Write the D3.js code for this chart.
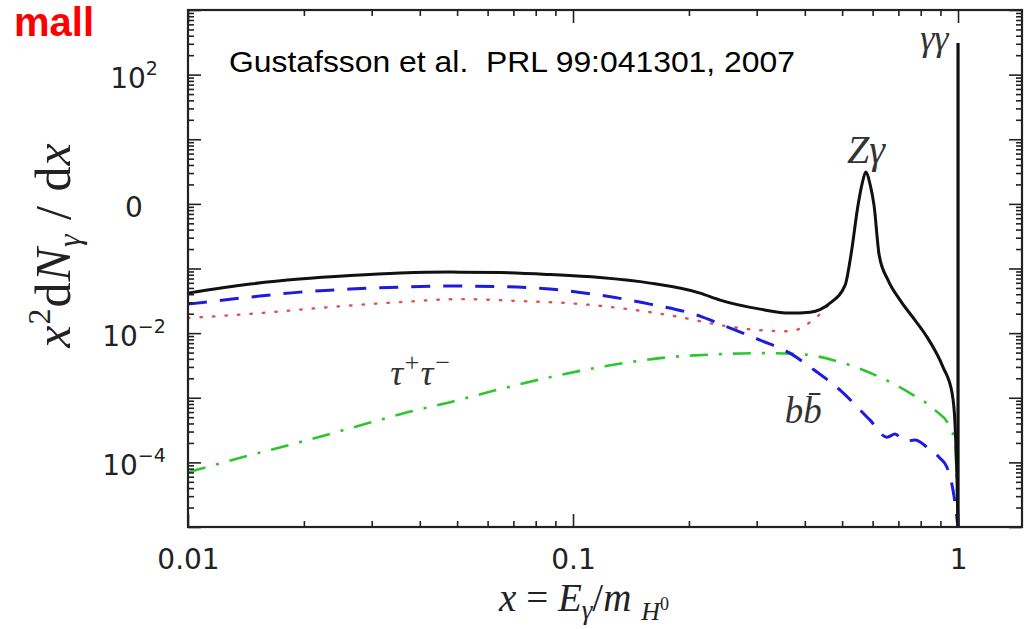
<!DOCTYPE html>
<html>
<head>
<meta charset="utf-8">
<script src="https://cdn.jsdelivr.net/npm/d3@7"></script>
<style>
body { margin: 0; background: #fff; }
svg { display: block; }
</style>
</head>
<body>
<div id="chart"></div>
<script>
const width = 1025, height = 629
const frame = {left: 188, right: 1022, top: 10, bottom: 527}

// x ticks and labels
const xMajor = [0.01, 0.1, 1]
const xLabels = ["0.01", "0.1", "1"]
// y ticks and labels (the "0" label sits on 10^0 as in the picture)
const yMajor = [1e2, 1, 1e-2, 1e-4]
const yLabelBase = ["10", "0", "10", "10"]
const yLabelExp = ["2", "", "\u22122", "\u22124"]

// total spectrum (solid black)
const totalX = [0.01, 0.0145, 0.0195, 0.0264, 0.0356, 0.048, 0.0646, 0.0871, 0.1175, 0.1585, 0.2138, 0.241, 0.306, 0.366, 0.413, 0.465, 0.509, 0.527, 0.55, 0.563, 0.577, 0.591, 0.605, 0.624, 0.658, 0.707, 0.773, 0.831, 0.914, 0.965, 0.982, 0.994, 0.9995]
const totalY = [0.0416, 0.0574, 0.0686, 0.0777, 0.0849, 0.0879, 0.0865, 0.0805, 0.0723, 0.0594, 0.0416, 0.0324, 0.0235, 0.0204, 0.0211, 0.0291, 0.0553, 0.161, 0.957, 2.0, 3.10, 2.0, 0.957, 0.161, 0.066, 0.0324, 0.0159, 0.00867, 0.00298, 0.00118, 0.000404, 5.3e-5, 1e-5]

// b bbar (blue dashed)
const bbX = [0.01, 0.0145, 0.0195, 0.0264, 0.0356, 0.048, 0.0646, 0.0871, 0.1175, 0.1585, 0.2138, 0.241, 0.306, 0.366, 0.413, 0.494, 0.591, 0.654, 0.686, 0.728, 0.773, 0.831, 0.898, 0.936, 0.9705, 0.988, 0.9995]
const bbY = [0.0281, 0.0361, 0.0431, 0.048, 0.0515, 0.0535, 0.0525, 0.048, 0.0387, 0.0281, 0.0183, 0.0138, 0.0078, 0.0049, 0.00298, 0.00131, 0.00045, 0.000245, 0.000274, 0.000213, 0.000221, 0.000172, 0.000116, 8.4e-5, 3.7e-5, 1.82e-5, 1e-5]

// dotted red
const dotX = [0.01, 0.0154, 0.0234, 0.0356, 0.0509, 0.0728, 0.1012, 0.1324, 0.1897, 0.241, 0.306, 0.366, 0.413, 0.443, 0.465, 0.509, 0.527, 0.55, 0.563, 0.577, 0.591, 0.605, 0.624, 0.658, 0.707, 0.773, 0.831, 0.914, 0.965, 0.982, 0.994, 0.9995]
const dotY = [0.0171, 0.0204, 0.0253, 0.0302, 0.0336, 0.0313, 0.0286, 0.0244, 0.0177, 0.0133, 0.0111, 0.0107, 0.0148, 0.0211, 0.0291, 0.0553, 0.161, 0.957, 2.0, 3.10, 2.0, 0.957, 0.161, 0.066, 0.0324, 0.0159, 0.00867, 0.00298, 0.00118, 0.000404, 5.3e-5, 1e-5]

// tau+ tau- (green dash-dot)
const tauX = [0.01, 0.0145, 0.0195, 0.0264, 0.0356, 0.048, 0.0646, 0.0871, 0.1175, 0.1683, 0.241, 0.306, 0.3887, 0.494, 0.627, 0.75, 0.8716, 0.953, 0.982, 0.994, 0.9995]
const tauY = [7.05e-5, 0.000129, 0.000205, 0.000338, 0.000557, 0.000855, 0.00136, 0.00208, 0.00298, 0.0041, 0.00473, 0.0049, 0.00473, 0.00356, 0.00208, 0.00118, 0.000643, 0.000351, 0.000198, 3.7e-5, 1e-5]

// gamma gamma line at x = 1
const lineGGX = [1, 1]
const lineGGY = [1e-5, 308]

const xScale = d3.scaleLog().domain([0.01, 1.466]).range([frame.left, frame.right])
const yScale = d3.scaleLog().domain([1e-5, 1e3]).range([frame.bottom, frame.top])

const svg = d3.select("#chart").append("svg")
    .attr("width", width)
    .attr("height", height)

function zip(xs, ys) {
    return xs.map((x, i) => ({x: x, y: ys[i]}))
}

const lineGen = d3.line()
    .x(d => xScale(d.x))
    .y(d => yScale(d.y))
    .curve(d3.curveMonotoneX)

const plot = svg.append("g")

function drawCurve(data, color, w, dash, cap) {
    plot.append("path")
        .datum(data)
        .attr("d", lineGen)
        .attr("fill", "none")
        .attr("stroke", color)
        .attr("stroke-width", w)
        .attr("stroke-dasharray", dash)
        .attr("stroke-linecap", cap || "butt")
}

drawCurve(zip(tauX, tauY), "#2ec62e", 2.6, "18,11,3,11")
drawCurve(zip(dotX, dotY), "#e0505a", 2.4, "1.5,11", "round")
drawCurve(zip(bbX, bbY), "#1c1ce0", 3, "19,13")
drawCurve(zip(totalX, totalY), "#111", 3, null)
drawCurve(zip(lineGGX, lineGGY), "#111", 3.2, null)

// ticks: inward, on all four sides
const xMinor = xScale.ticks().filter(v => xMajor.indexOf(v) < 0)
const yMinor = yScale.ticks().filter(v => Math.abs(Math.log10(v) - Math.round(Math.log10(v))) > 1e-6)
const yAll = yScale.ticks().filter(v => yMinor.indexOf(v) < 0)

function styleAxis(g) {
    g.select(".domain").remove()
    g.selectAll(".tick line").attr("stroke", "#222").attr("stroke-width", 1.6)
}

svg.append("g")
    .attr("transform", "translate(0," + frame.bottom + ")")
    .call(d3.axisBottom(xScale).tickValues(xMajor).tickSize(-13).tickPadding(22)
        .tickFormat((d, i) => xLabels[i]))
    .call(styleAxis)
    .call(g => g.selectAll("text")
        .attr("font-family", "DejaVu Sans")
        .attr("font-size", 28)
        .attr("fill", "#222"))

svg.append("g")
    .attr("transform", "translate(0," + frame.bottom + ")")
    .call(d3.axisBottom(xScale).tickValues(xMinor).tickSize(-6).tickFormat(""))
    .call(styleAxis)

svg.append("g")
    .attr("transform", "translate(0," + frame.top + ")")
    .call(d3.axisTop(xScale).tickValues(xMajor).tickSize(-13).tickFormat(""))
    .call(styleAxis)

svg.append("g")
    .attr("transform", "translate(0," + frame.top + ")")
    .call(d3.axisTop(xScale).tickValues(xMinor).tickSize(-6).tickFormat(""))
    .call(styleAxis)

svg.append("g")
    .attr("transform", "translate(" + frame.left + ",0)")
    .call(d3.axisLeft(yScale).tickValues(yAll).tickSize(-13).tickFormat(""))
    .call(styleAxis)

svg.append("g")
    .attr("transform", "translate(" + frame.left + ",0)")
    .call(d3.axisLeft(yScale).tickValues(yMinor).tickSize(-6).tickFormat(""))
    .call(styleAxis)

svg.append("g")
    .attr("transform", "translate(" + frame.right + ",0)")
    .call(d3.axisRight(yScale).tickValues(yAll).tickSize(-13).tickFormat(""))
    .call(styleAxis)

svg.append("g")
    .attr("transform", "translate(" + frame.right + ",0)")
    .call(d3.axisRight(yScale).tickValues(yMinor).tickSize(-6).tickFormat(""))
    .call(styleAxis)

// frame
svg.append("rect")
    .attr("x", frame.left)
    .attr("y", frame.top)
    .attr("width", frame.right - frame.left)
    .attr("height", frame.bottom - frame.top)
    .attr("fill", "none")
    .attr("stroke", "#222")
    .attr("stroke-width", 2.2)

// y tick labels with superscripts, centred as in the picture
yMajor.forEach((v, i) => {
    const t = svg.append("text")
        .attr("x", 134)
        .attr("y", yScale(v) + 13)
        .attr("text-anchor", "middle")
        .attr("font-family", "DejaVu Sans")
        .attr("font-size", 28)
        .attr("fill", "#222")
    t.append("tspan").text(yLabelBase[i])
    if (yLabelExp[i] !== "") {
        t.append("tspan")
            .attr("dy", -13)
            .attr("font-size", 19)
            .text(yLabelExp[i])
    }
})

// axis titles
const serif = "Liberation Serif"
const yTitle = svg.append("text")
    .attr("transform", "translate(70,245) rotate(-90)")
    .attr("text-anchor", "middle")
    .attr("font-family", serif)
    .attr("font-size", 50)
    .attr("letter-spacing", 1)
    .attr("fill", "#222")
yTitle.append("tspan").attr("font-style", "italic").text("x")
yTitle.append("tspan").attr("dy", -20).attr("font-size", 32).text("2")
yTitle.append("tspan").attr("dy", 20).text("d")
yTitle.append("tspan").attr("font-style", "italic").text("N")
yTitle.append("tspan").attr("dy", 10).attr("font-size", 32).attr("font-style", "italic").text("\u03b3")
yTitle.append("tspan").attr("dy", -10).text("\u00a0/\u00a0d")
yTitle.append("tspan").attr("font-style", "italic").text("x")

const xTitle = svg.append("text")
    .attr("x", 584)
    .attr("y", 611)
    .attr("text-anchor", "middle")
    .attr("font-family", serif)
    .attr("font-size", 39)
    .attr("fill", "#222")
xTitle.append("tspan").attr("font-style", "italic").text("x")
xTitle.append("tspan").text("\u00a0=\u00a0")
xTitle.append("tspan").attr("font-style", "italic").text("E")
xTitle.append("tspan").attr("dy", 8).attr("font-size", 27).attr("font-style", "italic").text("\u03b3")
xTitle.append("tspan").attr("dy", -8).text("/")
xTitle.append("tspan").attr("font-style", "italic").text("m\u00a0")
xTitle.append("tspan").attr("dy", 9).attr("font-size", 26).attr("font-style", "italic").text("H")
xTitle.append("tspan").attr("dy", -10).attr("font-size", 18).text("0")

// curve annotations
function annotate(x, y, anchor, size, parts) {
    const t = svg.append("text")
        .attr("x", xScale(x))
        .attr("y", yScale(y))
        .attr("text-anchor", anchor)
        .attr("font-family", serif)
        .attr("font-style", "italic")
        .attr("font-size", size)
        .attr("fill", "#333")
    parts.forEach(p => {
        t.append("tspan").attr("dy", p.dy || 0).attr("font-size", p.size || size).text(p.text)
    })
}

annotate(0.577, 4.3, "middle", 40, [{text: "Z\u03b3"}])
annotate(0.945, 240, "end", 36, [{text: "\u03b3\u03b3"}])
annotate(0.0335, 0.00157, "start", 36, [{text: "\u03c4"}, {text: "+", dy: -14, size: 26}, {text: "\u03c4", dy: 14}, {text: "\u2212", dy: -14, size: 26}])
annotate(0.355, 0.000404, "start", 37, [{text: "bb\u0304"}])

// citation and the cut title fragment
svg.append("text")
    .attr("x", 229)
    .attr("y", 72)
    .attr("font-family", "Liberation Sans")
    .attr("font-size", 30)
    .attr("fill", "#000")
    .attr("textLength", 566)
    .attr("lengthAdjust", "spacingAndGlyphs")
    .text("Gustafsson et al.\u00a0 PRL 99:041301, 2007")

svg.append("text")
    .attr("x", 94)
    .attr("y", 36)
    .attr("text-anchor", "end")
    .attr("font-family", "Liberation Sans")
    .attr("font-weight", "bold")
    .attr("font-size", 40)
    .attr("fill", "#f00")
    .text("mall")
</script>
</body>
</html>
